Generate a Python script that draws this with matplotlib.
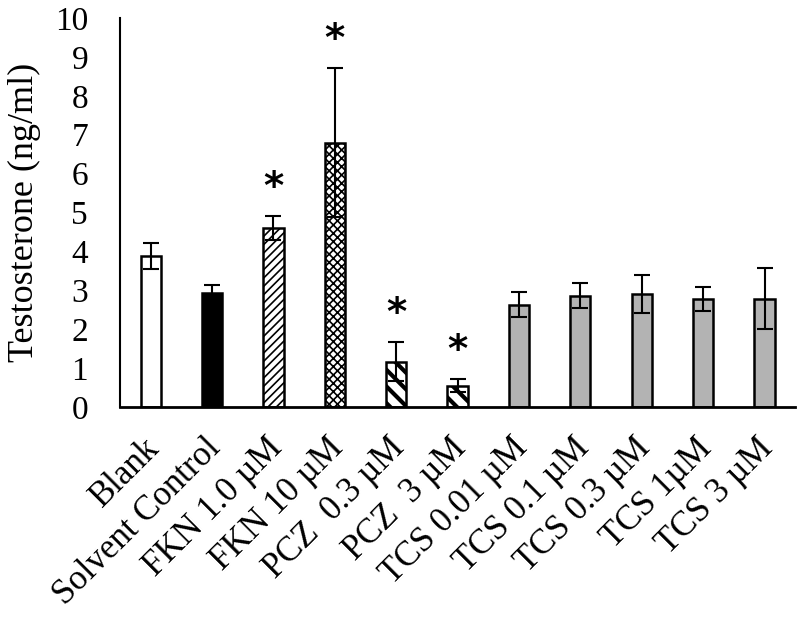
import matplotlib
matplotlib.use('Agg')
import matplotlib.pyplot as plt
import matplotlib.transforms as mtransforms

plt.rcParams['font.family'] = ['Liberation Serif', 'DejaVu Serif']
plt.rcParams['hatch.linewidth'] = 1.2

groups = ["Blank", "Solvent Control", "FKN 1.0 \u00b5M", "FKN 10 \u00b5M", "PCZ  0.3 \u00b5M",
          "PCZ  3 \u00b5M", "TCS 0.01 \u00b5M", "TCS 0.1 \u00b5M", "TCS 0.3 \u00b5M",
          "TCS 1\u00b5M", "TCS 3 \u00b5M"]
means = [3.88, 2.93, 4.60, 6.79, 1.16, 0.54, 2.62, 2.86, 2.90, 2.77, 2.78]
errors = [0.34, 0.21, 0.31, 1.92, 0.50, 0.17, 0.32, 0.32, 0.48, 0.31, 0.78]
significant = [False, False, True, True, True, True, False, False, False, False, False]
fills = ["white", "black", "white", "white", "white", "white",
         "#b3b3b3", "#b3b3b3", "#b3b3b3", "#b3b3b3", "#b3b3b3"]
hatches = ["", "", "////", "xxxx", "\\\\", "\\\\", "", "", "", "", ""]
hatch_widths = [1, 1, 1.2, 1.2, 3, 3, 1, 1, 1, 1, 1]

fig = plt.figure(figsize=(8, 6.21), dpi=100)
ax = fig.add_axes([0.15, 0.345, 0.844, 0.626])

x = list(range(len(groups)))
bars = ax.bar(x, means, width=0.33, color=fills, edgecolor="black", linewidth=1.8,
              hatch=hatches, zorder=2)
for b, hw in zip(bars, hatch_widths):
    if hasattr(b, "set_hatch_linewidth"):
        b.set_hatch_linewidth(hw)
ax.errorbar(x, means, yerr=errors, fmt="none", ecolor="black", elinewidth=1.5,
            capsize=6, capthick=1.5, zorder=3)

# significance markers above the error bars
for i, sig in enumerate(significant):
    if sig:
        ax.text(i, means[i] + errors[i] + 0.72, "*", ha="center", va="center",
                fontsize=28, fontweight="bold", family="DejaVu Sans")

ax.set_xlim(-0.5, len(groups) - 0.5)
ax.set_ylim(0, 10)
ax.set_yticks(range(0, 11))
ax.set_ylabel("Testosterone (ng/ml)", fontsize=26, labelpad=10)
ax.set_xticks(x)
ax.set_xticklabels(groups, rotation=45, ha="right", rotation_mode="anchor", fontsize=25)
ax.tick_params(axis="both", length=0)
ax.tick_params(axis="y", pad=23, labelsize=24)
ax.tick_params(axis="x", pad=18)
shift = mtransforms.ScaledTranslation(-8 / 100, 0, fig.dpi_scale_trans)
for lbl in ax.get_xticklabels():
    lbl.set_transform(lbl.get_transform() + shift)
for s in ["top", "right"]:
    ax.spines[s].set_visible(False)
ax.spines["left"].set_linewidth(1.5)
ax.spines["bottom"].set_linewidth(2)

plt.savefig("out.png", dpi=100)
